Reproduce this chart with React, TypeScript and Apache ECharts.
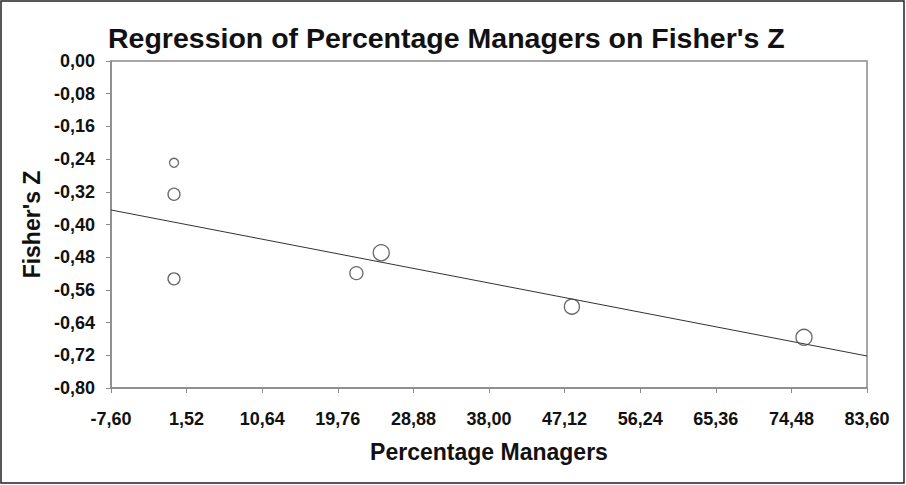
import React, { useEffect, useRef } from "react";
import * as echarts from "echarts";

const TITLE = "Regression of Percentage Managers on Fisher's Z";
const X_NAME = "Percentage Managers";
const Y_NAME = "Fisher's Z";

const xTicks = [-7.6, 1.52, 10.64, 19.76, 28.88, 38.0, 47.12, 56.24, 65.36, 74.48, 83.6];
const yTicks = [0, -0.08, -0.16, -0.24, -0.32, -0.4, -0.48, -0.56, -0.64, -0.72, -0.8];

const pctManagers = [0, 0, 0, 22, 25, 48, 76];
const fisherZ = [-0.249, -0.326, -0.533, -0.519, -0.469, -0.601, -0.676];
const markerSizes = [9, 12, 12, 13, 16, 15, 16];

const regX = [-7.6, 83.6];
const regY = [-0.3645, -0.7217];

const fmt = (v: number) => v.toFixed(2).replace(".", ",");

export default function App() {
  const ref = useRef<HTMLDivElement>(null);
  useEffect(() => {
    if (!ref.current) return;
    const chart = echarts.init(ref.current, null, { renderer: "svg" });
    const font = "'Liberation Sans', Arial, sans-serif";
    chart.setOption({
      animation: false,
      backgroundColor: "#ffffff",
      textStyle: { fontFamily: font },
      title: {
        text: TITLE,
        left: 103,
        top: 18,
        textStyle: { fontFamily: font, fontSize: 28.5, fontWeight: "bold", color: "#111" },
      },
      grid: {
        left: 111,
        right: 39,
        top: 61,
        bottom: 97,
        show: true,
        borderColor: "#8a8a8a",
        borderWidth: 1.5,
        backgroundColor: "transparent",
      },
      xAxis: {
        type: "value",
        min: -7.6,
        max: 83.6,
        name: X_NAME,
        nameLocation: "middle",
        nameGap: 52,
        nameTextStyle: { fontFamily: font, fontSize: 23, fontWeight: "bold", color: "#111" },
        axisLine: { show: true, onZero: false, lineStyle: { color: "#8a8a8a", width: 1.5 } },
        axisTick: { show: true, length: 5, customValues: xTicks, lineStyle: { color: "#8a8a8a" } },
        axisLabel: {
          customValues: xTicks,
          formatter: (v: number) => fmt(v),
          margin: 22,
          fontFamily: font,
          fontSize: 18,
          fontWeight: "bold",
          color: "#111",
        },
        splitLine: { show: false },
      },
      yAxis: {
        type: "value",
        min: -0.8,
        max: 0,
        name: Y_NAME,
        nameLocation: "middle",
        nameGap: 68,
        nameRotate: 90,
        nameTextStyle: { fontFamily: font, fontSize: 23, fontWeight: "bold", color: "#111" },
        axisLine: { show: true, onZero: false, lineStyle: { color: "#8a8a8a", width: 1.5 } },
        axisTick: { show: true, length: 5, customValues: yTicks, lineStyle: { color: "#8a8a8a" } },
        axisLabel: {
          customValues: yTicks,
          formatter: (v: number) => fmt(v),
          margin: 16,
          fontFamily: font,
          fontSize: 18,
          fontWeight: "bold",
          color: "#111",
        },
        splitLine: { show: false },
      },
      graphic: [
        {
          type: "rect",
          shape: { x: 1, y: 1, width: 903, height: 482 },
          style: { fill: "none", stroke: "#222", lineWidth: 1.5 },
          silent: true,
          z: 100,
        },
      ],
      series: [
        {
          type: "line",
          data: regX.map((x, i) => [x, regY[i]]),
          showSymbol: false,
          symbol: "none",
          lineStyle: { color: "#333", width: 1 },
          clip: false,
          z: 2,
        },
        {
          type: "scatter",
          data: pctManagers.map((x, i) => [x, fisherZ[i], markerSizes[i]]),
          symbol: "circle",
          symbolSize: (d: number[]) => d[2],
          itemStyle: { color: "rgba(255,255,255,0)", borderColor: "#444", borderWidth: 1.3 },
          z: 3,
        },
      ],
    });
    return () => chart.dispose();
  }, []);
  return (
    <div
      ref={ref}
      style={{ position: "fixed", left: 0, top: 0, width: 906, height: 485 }}
    />
  );
}
